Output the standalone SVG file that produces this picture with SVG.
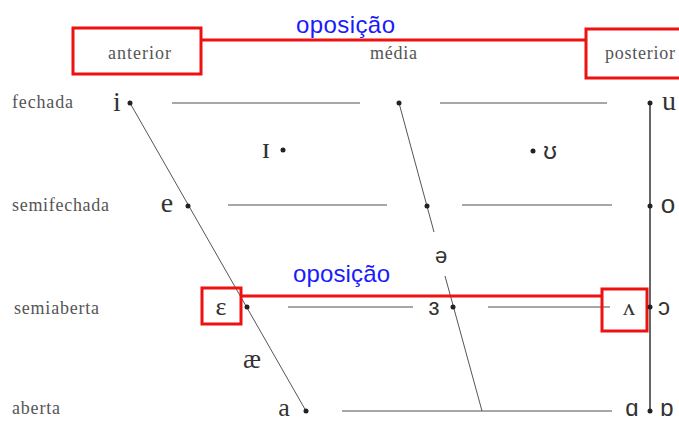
<svg xmlns="http://www.w3.org/2000/svg" width="679" height="421" viewBox="0 0 679 421">
<style>
.lbl{font-family:"Liberation Serif","DejaVu Serif",serif;font-size:18px;fill:#555}
.sym{font-family:"Liberation Serif","DejaVu Serif",serif;font-size:28px;fill:#333;text-anchor:middle}
.ssym{font-family:"Liberation Sans","DejaVu Sans",sans-serif;font-size:26px;fill:#333;text-anchor:middle}
.opo{font-family:"Liberation Sans",Arial,sans-serif;font-size:24px;fill:#1a1aff}
.hl{stroke:#8a8a8a;stroke-width:1.5;fill:none}
.dl{stroke:#555;stroke-width:1;fill:none}
.vl{stroke:#333;stroke-width:1.5;fill:none}
.red{stroke:#ee1111;stroke-width:3;fill:none}
.dot{fill:#222}
</style>
<rect width="679" height="421" fill="#ffffff"/>
<g id="connectors">
<line class="hl" x1="172" y1="103" x2="360" y2="103"/>
<line class="hl" x1="440" y1="103" x2="607" y2="103"/>
<line class="hl" x1="228" y1="205" x2="387" y2="205"/>
<line class="hl" x1="462" y1="205" x2="612" y2="205"/>
<line class="hl" x1="288" y1="307" x2="413" y2="307"/>
<line class="hl" x1="488" y1="307" x2="610" y2="307"/>
<line class="hl" x1="342" y1="411" x2="612" y2="411"/>
<line class="dl" x1="130" y1="103" x2="306" y2="411"/>
<line class="dl" x1="399" y1="103" x2="434" y2="232"/>
<line class="dl" x1="445" y1="276" x2="482" y2="411"/>
<line class="vl" x1="650" y1="103" x2="650" y2="411"/>
<line class="red" x1="201" y1="40" x2="586" y2="40"/>
<line class="red" x1="241" y1="296" x2="602" y2="296"/>
</g>
<g id="anterior"><rect class="red" x="73" y="28" width="128" height="46"/><text class="lbl" x="108" y="59" textLength="63">anterior</text></g>
<g id="media"><text class="lbl" x="370" y="59" textLength="47">média</text></g>
<g id="posterior"><rect class="red" x="586" y="29" width="100" height="49"/><text class="lbl" x="605" y="59" textLength="70">posterior</text></g>
<g id="oposicao-top"><text class="opo" x="296" y="33" textLength="99">oposição</text></g>
<g id="oposicao-mid"><text class="opo" x="293" y="282" textLength="97">oposição</text></g>
<g id="fechada"><text class="lbl" x="12" y="108" textLength="61">fechada</text></g>
<g id="semifechada"><text class="lbl" x="12" y="211" textLength="97">semifechada</text></g>
<g id="semiaberta"><text class="lbl" x="14" y="314" textLength="85">semiaberta</text></g>
<g id="aberta"><text class="lbl" x="12" y="414" textLength="48">aberta</text></g>
<g id="v-i"><circle class="dot" cx="130" cy="103" r="2.5"/><text class="sym" x="117" y="111">i</text></g>
<g id="v-mid-top"><circle class="dot" cx="399" cy="103" r="2.5"/></g>
<g id="v-u"><circle class="dot" cx="650" cy="103" r="2.5"/><text class="sym" x="669" y="110">u</text></g>
<g id="v-I"><circle class="dot" cx="283" cy="150" r="2.5"/><text class="sym" x="266" y="158" style="font-size:30px">ɪ</text></g>
<g id="v-U"><circle class="dot" cx="533" cy="151" r="2.5"/><text class="ssym" x="550" y="159" style="font-size:24px">ʊ</text></g>
<g id="v-e"><circle class="dot" cx="188" cy="206" r="2.5"/><text class="sym" x="167" y="212">e</text></g>
<g id="v-mid-semifechada"><circle class="dot" cx="427" cy="206" r="2.5"/></g>
<g id="v-o"><circle class="dot" cx="650" cy="206" r="2.5"/><text class="ssym" x="668" y="213">o</text></g>
<g id="v-schwa"><text class="ssym" x="441" y="263" style="font-size:22px">ə</text></g>
<g id="v-epsilon"><rect class="red" x="202" y="288" width="39" height="36"/><circle class="dot" cx="247" cy="307" r="2.5"/><text class="sym" x="221" y="315" style="font-size:26px">ɛ</text></g>
<g id="v-3"><circle class="dot" cx="453" cy="307" r="2.5"/><text class="ssym" x="434" y="315" style="font-size:24px">ɜ</text></g>
<g id="v-lambda"><rect class="red" x="602" y="289" width="45" height="42"/><text class="sym" x="629" y="315" style="font-size:24px">ʌ</text></g>
<g id="v-open-o"><circle class="dot" cx="650" cy="307" r="2.5"/><text class="ssym" x="664" y="315" style="font-size:24px">ɔ</text></g>
<g id="v-ae"><text class="sym" x="252" y="368" style="font-size:27px">æ</text></g>
<g id="v-a"><circle class="dot" cx="306" cy="411" r="2.5"/><text class="sym" x="284" y="416" style="font-size:26px">a</text></g>
<g id="v-alpha"><circle class="dot" cx="650" cy="411" r="2.5"/><text class="ssym" x="632" y="416" style="font-size:24px">ɑ</text><text class="ssym" x="667" y="416" style="font-size:24px">ɒ</text></g>
</svg>
